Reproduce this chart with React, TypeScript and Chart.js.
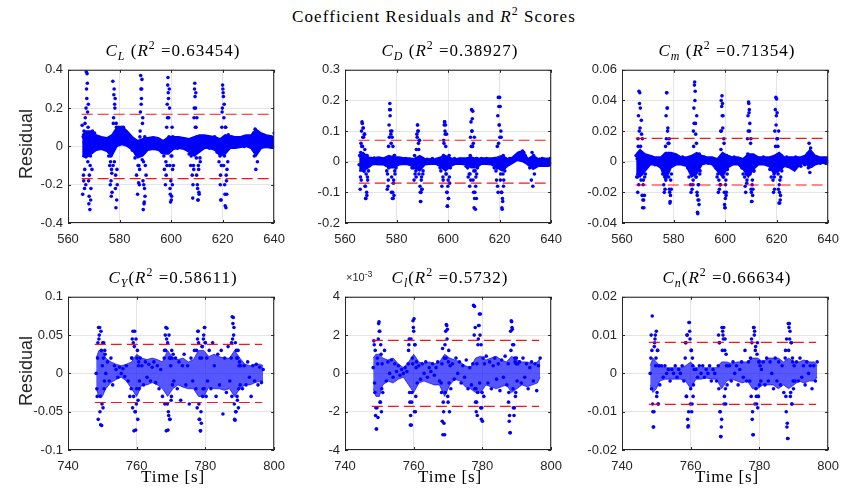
import React, { useEffect, useRef } from "react";
import { Chart, registerables } from "chart.js";

Chart.register(...registerables);

// ======================= DATA =======================
// ---- Upper row (C_L, C_D, C_m): sample times [s] ----
const TIME_ROW1 = [
  565.5, 565.7, 565.9, 566.1, 566.3, 566.5, 566.7, 566.9, 567.1, 567.3, 567.5, 567.7, 567.9, 568.1, 568.3, 568.5, 568.7, 568.9, 569.1, 569.3, 569.5, 569.7, 569.9,
  570.3, 570.8, 571.3, 571.8, 572.3, 572.8, 573.3, 573.8, 574.3, 574.8, 575.3, 575.8,
  576.0, 576.2, 576.4, 576.6, 576.8, 577.0, 577.2, 577.4, 577.6, 577.8, 578.0, 578.2, 578.4, 578.6, 578.8, 579.0, 579.2, 579.4, 579.6, 579.8, 580.0,
  580.5, 581.0, 581.5, 582.0, 582.5, 583.0, 583.5, 584.0, 584.5, 585.0, 585.5, 586.0,
  586.4, 586.6, 586.8, 587.0, 587.2, 587.4, 587.6, 587.8, 588.0, 588.2, 588.4, 588.6, 588.8, 589.0, 589.2, 589.4, 589.6, 589.8, 590.0, 590.2, 590.4,
  590.9, 591.4, 591.9, 592.4, 592.9, 593.4, 593.9, 594.4, 594.9, 595.4, 595.9, 596.4, 596.9,
  597.2, 597.4, 597.6, 597.8, 598.0, 598.2, 598.4, 598.6, 598.8, 599.0, 599.2, 599.4, 599.6, 599.8, 600.0, 600.2, 600.4, 600.6, 600.8, 601.0,
  601.5, 602.0, 602.5, 603.0, 603.5, 604.0, 604.5, 605.0, 605.5, 606.0, 606.5, 607.0,
  607.4, 607.6, 607.8, 608.0, 608.2, 608.4, 608.6, 608.8, 609.0, 609.2, 609.4, 609.6, 609.8, 610.0, 610.2, 610.4, 610.6, 610.8, 611.0, 611.2, 611.4,
  611.9, 612.4, 612.9, 613.4, 613.9, 614.4, 614.9, 615.4, 615.9, 616.4, 616.9, 617.4, 617.9,
  618.4, 618.6, 618.8, 619.0, 619.2, 619.4, 619.6, 619.8, 620.0, 620.2, 620.4, 620.6, 620.8, 621.0, 621.2, 621.4, 621.6, 621.8, 622.0, 622.2, 622.4,
  622.9, 623.4, 623.9, 624.4, 624.9, 625.4, 625.9, 626.4, 626.9, 627.4, 627.9, 628.4, 628.9, 629.4, 629.9, 630.4, 630.9, 631.4,
  631.7, 632.0, 632.3, 632.6, 632.9, 633.2, 633.5, 633.8, 634.1,
  634.5, 635.0, 635.5, 636.0, 636.5, 637.0, 637.5, 638.0, 638.5, 639.0, 639.5, 640.0,
];

const CL_RESIDUAL = [
  0.11, -0.25, 0.05, -0.18, 0.02, -0.12, 0.15, -0.2, 0.39, 0.25, 0.33, -0.08, 0.22, -0.3, -0.15, -0.33, -0.05, -0.22, 0.06, -0.12, 0.08, 0.03, 0.06,
  0.07, 0.03, 0.05, 0.0, 0.04, 0.02, 0.03, -0.01, 0.03, 0.01, -0.02, -0.05,
  -0.03, -0.1, -0.2, -0.05, -0.26, -0.14, 0.05, 0.34, 0.12, 0.27, -0.08, 0.2, -0.22, -0.32, 0.1, -0.12, 0.09, 0.02, 0.1, 0.05, 0.08,
  0.09, 0.04, 0.1, 0.05, 0.07, 0.02, 0.05, 0.0, 0.03, -0.02, 0.01, -0.06,
  -0.04, -0.15, -0.02, -0.25, -0.1, -0.19, 0.02, -0.12, 0.08, 0.37, 0.22, 0.3, -0.07, 0.15, -0.33, -0.2, -0.29, 0.05, -0.1, 0.04, 0.02,
  0.03, 0.0, 0.04, 0.01, 0.03, -0.01, 0.02, 0.04, 0.0, 0.03, 0.01, -0.03, 0.02,
  -0.05, -0.12, 0.0, -0.2, -0.08, 0.02, -0.1, 0.15, 0.36, 0.25, 0.05, 0.2, -0.22, -0.29, -0.05, -0.26, 0.1, -0.12, 0.04, 0.02,
  0.02, 0.04, -0.01, 0.03, 0.0, 0.03, 0.01, 0.04, -0.01, 0.02, 0.0, -0.04,
  -0.02, -0.1, -0.05, 0.0, -0.15, -0.27, -0.02, -0.12, 0.2, 0.33, 0.1, 0.28, -0.06, 0.15, -0.2, -0.28, -0.1, -0.24, 0.05, -0.06, 0.04,
  0.02, 0.05, 0.0, 0.03, 0.01, 0.04, -0.01, 0.03, 0.0, 0.02, 0.05, 0.01, -0.03,
  -0.02, -0.08, 0.0, -0.05, -0.15, -0.28, 0.02, 0.18, 0.32, 0.28, -0.1, 0.22, -0.2, -0.31, 0.1, -0.15, -0.25, 0.03, -0.08, 0.06, 0.02,
  0.03, 0.05, 0.0, 0.04, 0.01, 0.03, 0.0, 0.02, 0.04, 0.01, 0.03, 0.0, 0.02, 0.04, 0.01, 0.03, 0.0, 0.02,
  0.04, 0.07, -0.05, 0.09, -0.12, 0.06, -0.08, 0.05, 0.02,
  0.03, 0.01, 0.05, 0.02, 0.04, 0.0, 0.03, 0.05, 0.01, 0.03, 0.0, 0.07,
];

const CD_RESIDUAL = [
  -0.01, 0.02, -0.09, 0.03, -0.06, 0.05, 0.125, 0.08, 0.11, -0.03, 0.09, 0.04, -0.08, -0.12, 0.02, -0.11, -0.05, 0.01, -0.03, 0.01, 0.0, 0.01, 0.005,
  0.01, -0.005, 0.012, 0.0, 0.008, -0.004, 0.01, 0.002, 0.006, -0.006, 0.004, -0.01,
  0.0, -0.03, -0.09, 0.01, -0.06, -0.02, 0.08, 0.19, 0.17, 0.09, -0.1, 0.1, -0.12, 0.05, -0.07, -0.11, 0.02, -0.04, 0.01, -0.02, 0.005,
  0.01, -0.005, 0.008, 0.0, 0.006, -0.004, 0.01, -0.002, 0.005, -0.008, 0.003, -0.02,
  0.0, -0.02, -0.06, 0.02, -0.04, -0.01, -0.05, 0.01, 0.08, 0.12, 0.1, 0.04, 0.07, -0.02, -0.1, -0.13, -0.06, -0.09, 0.01, -0.04, 0.005,
  0.005, -0.005, 0.008, 0.0, 0.006, -0.003, 0.01, 0.0, 0.005, -0.005, 0.003, -0.01, -0.02,
  -0.03, -0.01, -0.08, 0.0, -0.05, 0.02, 0.06, 0.13, 0.1, 0.12, -0.04, 0.09, -0.1, -0.145, -0.06, -0.12, 0.02, -0.07, 0.01, -0.005,
  0.008, -0.004, 0.01, 0.0, 0.006, -0.005, 0.009, 0.002, 0.005, -0.006, 0.003, -0.015,
  0.0, -0.02, -0.05, 0.01, -0.04, -0.08, 0.02, -0.06, 0.05, 0.1, 0.14, 0.165, 0.06, -0.03, 0.08, -0.1, -0.155, -0.05, -0.12, 0.01, -0.02,
  0.006, -0.004, 0.01, 0.0, 0.007, -0.003, 0.01, 0.001, 0.005, -0.005, 0.004, -0.01, -0.02,
  0.0, -0.03, -0.06, -0.02, -0.08, -0.1, 0.06, 0.12, 0.21, 0.18, -0.04, 0.08, -0.1, -0.155, -0.13, 0.02, -0.06, 0.0, -0.03, 0.01, 0.0,
  0.005, -0.006, 0.01, 0.0, 0.008, 0.01, 0.015, 0.012, 0.02, 0.025, 0.03, 0.028, 0.035, 0.03, 0.02, 0.005, 0.0, -0.01,
  -0.02, 0.01, -0.06, 0.03, -0.08, 0.02, -0.04, 0.01, -0.01,
  0.005, -0.01, 0.008, -0.005, 0.01, -0.008, 0.006, -0.01, 0.008, -0.004, 0.01, -0.006,
];

const CM_RESIDUAL = [
  0.004, -0.01, 0.002, -0.02, 0.01, -0.015, 0.02, 0.045, 0.035, 0.005, 0.027, -0.008, 0.015, -0.025, -0.012, -0.03, -0.022, 0.004, -0.008, 0.003, 0.0, 0.002, 0.001,
  0.002, -0.001, 0.003, 0.0, 0.002, -0.002, 0.002, 0.0, 0.001, -0.002, -0.004, -0.008,
  -0.006, -0.015, -0.02, -0.01, 0.005, -0.012, 0.015, 0.045, 0.035, 0.022, -0.005, 0.012, -0.018, -0.027, -0.022, 0.004, -0.008, 0.003, -0.002, 0.002, 0.0,
  0.003, 0.0, 0.002, -0.001, 0.002, 0.0, 0.003, -0.001, 0.001, -0.002, -0.004, -0.01,
  -0.005, -0.015, -0.02, -0.008, -0.018, -0.006, -0.012, 0.01, 0.025, 0.052, 0.046, 0.018, -0.01, 0.03, -0.022, -0.034, -0.015, -0.025, 0.005, -0.008, 0.002,
  0.003, 0.001, 0.003, 0.0, 0.002, -0.001, 0.002, 0.0, 0.002, -0.001, 0.0, -0.004, -0.01,
  -0.008, -0.02, -0.012, -0.018, -0.006, -0.015, 0.008, 0.02, 0.043, 0.038, 0.03, -0.01, 0.012, -0.028, -0.03, -0.015, -0.022, 0.004, -0.008, 0.002,
  0.003, 0.0, 0.002, -0.001, 0.003, 0.0, 0.002, -0.001, 0.001, -0.002, -0.004, -0.008,
  -0.004, -0.01, -0.016, -0.02, -0.008, -0.014, -0.003, 0.005, 0.02, 0.038, 0.034, 0.025, -0.005, 0.015, -0.02, -0.026, -0.012, -0.018, 0.004, -0.006, 0.001,
  0.003, 0.0, 0.002, -0.001, 0.002, 0.0, 0.003, -0.001, 0.001, -0.002, 0.0, -0.005, -0.01,
  -0.004, -0.012, -0.02, -0.008, -0.018, -0.006, 0.01, 0.024, 0.041, 0.032, 0.015, -0.008, 0.02, -0.015, -0.027, -0.025, -0.01, 0.004, -0.006, 0.002, 0.001,
  0.002, 0.0, 0.003, -0.001, 0.002, 0.0, 0.002, -0.002, 0.001, 0.003, -0.001, 0.002, 0.0, -0.003, 0.002, 0.001, -0.002, 0.002,
  0.002, 0.005, -0.004, 0.012, -0.007, 0.009, -0.003, 0.004, 0.002,
  0.002, 0.0, 0.003, 0.001, 0.002, -0.001, 0.002, 0.0, 0.002, -0.001, 0.001, 0.0,
];

// extra samples inside the six manoeuvre bursts (upper row)
const BURST_TIME_ROW1 = [
  566.0, 566.2, 566.4, 566.6, 566.8, 567.0, 567.2, 567.4, 567.6, 567.8, 568.0, 568.2, 568.4, 568.6, 568.8,
  576.5, 576.7, 576.9, 577.1, 577.3, 577.5, 577.7, 577.9, 578.1, 578.3, 578.5, 578.7, 578.9, 579.1, 579.3,
  587.5, 587.7, 587.9, 588.1, 588.3, 588.5, 588.7, 588.9, 589.1, 589.3, 589.5, 589.7, 589.9, 590.1, 590.3,
  598.1, 598.3, 598.5, 598.7, 598.9, 599.1, 599.3, 599.5, 599.7, 599.9, 600.1, 600.3, 600.5, 600.7, 600.9,
  608.5, 608.7, 608.9, 609.1, 609.3, 609.5, 609.7, 609.9, 610.1, 610.3, 610.5, 610.7, 610.9, 611.1, 611.3,
  619.1, 619.3, 619.5, 619.7, 619.9, 620.1, 620.3, 620.5, 620.7, 620.9, 621.1, 621.3, 621.5, 621.7, 621.9,
];
const CL_BURST = [
  -0.15, 0.08, -0.22, 0.12, -0.05, 0.2, 0.3, 0.38, 0.18, 0.1, -0.18, -0.26, 0.05, -0.1, -0.28,
  -0.08, -0.18, -0.12, -0.24, 0.05, -0.1, 0.15, 0.3, 0.22, 0.25, -0.15, 0.12, -0.28, -0.2, 0.06,
  -0.1, -0.2, 0.05, 0.18, 0.3, 0.25, 0.35, 0.12, -0.18, -0.08, -0.3, -0.22, -0.26, 0.02, -0.15,
  -0.15, 0.1, 0.22, 0.32, 0.28, 0.15, 0.3, -0.1, -0.25, -0.18, -0.28, -0.05, -0.2, 0.05, -0.1,
  -0.2, -0.1, 0.15, 0.3, 0.26, 0.2, 0.1, -0.15, 0.05, -0.22, -0.28, -0.12, -0.25, 0.02, -0.08,
  -0.2, -0.28, -0.1, 0.1, 0.2, 0.3, 0.26, 0.15, -0.05, -0.25, 0.1, -0.32, -0.18, -0.12, 0.02,
];
const CD_BURST = [
  -0.05, 0.06, 0.1, 0.13, 0.05, 0.11, 0.08, -0.03, 0.09, -0.08, -0.12, -0.04, -0.1, 0.02, -0.06,
  -0.04, -0.08, 0.05, 0.12, 0.17, 0.15, 0.1, 0.06, -0.05, 0.08, -0.1, -0.12, -0.06, 0.02, -0.03,
  -0.03, 0.04, 0.09, 0.12, 0.1, 0.06, -0.04, 0.07, -0.08, -0.13, -0.1, -0.05, -0.09, 0.01, -0.03,
  -0.06, 0.07, 0.12, 0.13, 0.09, 0.05, -0.04, -0.1, -0.145, -0.08, -0.12, 0.01, -0.05, 0.0, -0.02,
  -0.04, 0.08, 0.13, 0.17, 0.1, 0.05, -0.06, -0.1, -0.15, -0.12, -0.03, -0.08, 0.01, -0.04, 0.0,
  0.05, 0.15, 0.21, 0.18, 0.12, 0.08, -0.06, 0.1, -0.1, -0.15, -0.12, -0.04, -0.08, 0.01, -0.02,
];
const CM_BURST = [
  -0.01, 0.015, 0.03, 0.046, 0.038, 0.022, 0.01, -0.012, 0.018, -0.022, -0.03, -0.015, -0.025, 0.004, -0.01,
  -0.008, -0.018, 0.01, 0.03, 0.045, 0.035, 0.02, 0.012, -0.01, 0.015, -0.02, -0.026, -0.012, -0.018, 0.002,
  -0.015, 0.02, 0.035, 0.05, 0.04, 0.025, -0.01, 0.012, -0.02, -0.033, -0.025, -0.015, -0.028, 0.002, -0.006,
  -0.015, 0.02, 0.04, 0.036, 0.03, 0.022, -0.01, 0.015, -0.02, -0.03, -0.024, -0.012, -0.02, 0.002, -0.005,
  -0.012, 0.015, 0.03, 0.039, 0.032, 0.02, -0.008, 0.012, -0.018, -0.026, -0.015, -0.022, 0.0, -0.006, 0.002,
  -0.01, 0.02, 0.034, 0.042, 0.03, 0.015, -0.006, 0.01, -0.018, -0.027, -0.02, -0.012, -0.022, 0.002, -0.004,
];

// dense core band of the residual cloud: upper / lower edge (upper row)
const BAND_TIME_ROW1 = [
  565.5, 567, 569, 571, 573, 575, 577, 579, 581, 583, 585, 587, 589, 591, 593, 595, 597, 599, 601, 603,
  605, 607, 609, 611, 613, 615, 617, 619, 621, 623, 625, 627, 629, 631, 633, 635, 637, 639, 640,
];
const CL_BAND_HI = [
  0.06, 0.08, 0.08, 0.06, 0.05, 0.045, 0.06, 0.1, 0.105, 0.08, 0.05, 0.03, 0.04, 0.045, 0.05, 0.045, 0.03, 0.05, 0.05, 0.05,
  0.045, 0.04, 0.05, 0.06, 0.06, 0.055, 0.05, 0.04, 0.06, 0.055, 0.05, 0.05, 0.06, 0.06, 0.09, 0.07, 0.06, 0.055, 0.05,
];
const CL_BAND_LO = [
  -0.05, -0.06, -0.04, -0.02, -0.015, -0.025, -0.05, 0.0, 0.01, 0.0, -0.02, -0.06, -0.05, -0.02, -0.015, -0.02, -0.04, -0.04, -0.015, -0.01,
  -0.015, -0.03, -0.05, -0.03, -0.01, -0.01, -0.02, -0.05, -0.04, -0.01, -0.01, -0.005, 0.0, -0.01, -0.05, -0.01, -0.005, -0.01, -0.01,
];
const CD_BAND_HI = [
  0.02, 0.03, 0.015, 0.012, 0.015, 0.012, 0.02, 0.015, 0.015, 0.012, 0.012, 0.01, 0.02, 0.01, 0.008, 0.01, 0.015, 0.02, 0.01, 0.01,
  0.012, 0.012, 0.015, 0.01, 0.012, 0.012, 0.012, 0.015, 0.02, 0.01, 0.015, 0.03, 0.035, 0.01, 0.02, 0.01, 0.012, 0.01, 0.01,
];
const CD_BAND_LO = [
  -0.03, -0.03, -0.02, -0.008, -0.01, -0.01, -0.02, -0.02, -0.01, -0.008, -0.01, -0.02, -0.03, -0.01, -0.008, -0.008, -0.015, -0.03, -0.015, -0.008,
  -0.008, -0.01, -0.02, -0.02, -0.008, -0.008, -0.01, -0.02, -0.03, -0.015, -0.005, 0.005, 0.0, -0.01, -0.025, -0.015, -0.015, -0.015, -0.012,
];
const CM_BAND_HI = [
  0.005, 0.008, 0.005, 0.004, 0.003, 0.003, 0.006, 0.006, 0.005, 0.003, 0.003, 0.004, 0.006, 0.004, 0.003, 0.003, 0.002, 0.006, 0.004, 0.003,
  0.003, 0.002, 0.005, 0.005, 0.003, 0.003, 0.003, 0.004, 0.006, 0.003, 0.003, 0.003, 0.003, 0.004, 0.008, 0.004, 0.003, 0.003, 0.003,
];
const CM_BAND_LO = [
  -0.008, -0.01, -0.006, -0.002, -0.002, -0.004, -0.012, -0.004, -0.002, -0.002, -0.003, -0.01, -0.008, -0.002, -0.001, -0.002, -0.006, -0.01, -0.004, -0.002,
  -0.002, -0.005, -0.01, -0.005, -0.002, -0.002, -0.003, -0.008, -0.006, -0.003, -0.004, -0.006, -0.002, -0.001, -0.004, -0.002, -0.001, -0.001, -0.002,
];

// ---- Lower row (C_Y, C_l, C_n): sample times [s] ----
const TIME_ROW2 = [
  748.2, 748.4, 748.6, 748.8, 749.0, 749.2, 749.4, 749.6, 749.8, 750.0, 750.2, 750.4, 750.6, 750.8, 751.0,
  751.5, 752.0, 752.5, 753.0, 753.5, 754.0, 754.5, 755.0, 755.5, 756.0, 756.5, 757.0, 757.5, 758.0,
  758.4, 758.6, 758.8, 759.0, 759.2, 759.4, 759.6, 759.8, 760.0, 760.2, 760.4, 760.6, 760.8, 761.0,
  761.5, 762.0, 762.5, 763.0, 763.5, 764.0, 764.5, 765.0, 765.5, 766.0, 766.5, 767.0, 767.5,
  768.0, 768.2, 768.4, 768.6, 768.8, 769.0, 769.2, 769.4, 769.6, 769.8, 770.0, 770.2, 770.4, 770.6, 770.8,
  771.3, 771.8, 772.3, 772.8, 773.3, 773.8, 774.3, 774.8, 775.3, 775.8, 776.3, 776.8,
  777.2, 777.4, 777.6, 777.8, 778.0, 778.2, 778.4, 778.6, 778.8, 779.0, 779.2, 779.4, 779.6, 779.8, 780.0, 780.2, 780.4, 780.6,
  781.1, 781.6, 782.1, 782.6, 783.1, 783.6, 784.1, 784.6, 785.1, 785.6, 786.1, 786.6, 787.1,
  787.5, 787.7, 787.9, 788.1, 788.3, 788.5, 788.7, 788.9, 789.1, 789.3, 789.5, 789.7, 789.9, 790.1, 790.3,
  790.8, 791.3, 791.8, 792.3, 792.8, 793.3, 793.8, 794.3, 794.8, 795.3, 795.8, 796.3, 796.8,
];

const CY_RESIDUAL = [
  0.0, -0.02, 0.02, -0.06, 0.045, 0.06, -0.03, 0.055, -0.068, 0.01, -0.045, 0.04, -0.01, 0.025, 0.0,
  0.015, -0.01, 0.02, -0.015, 0.01, 0.005, -0.005, 0.008, 0.0, 0.006, -0.004, 0.01, -0.01, -0.03,
  -0.02, 0.02, -0.045, 0.04, -0.075, 0.055, -0.05, 0.045, -0.02, 0.03, -0.035, 0.015, -0.01, 0.02,
  0.01, -0.015, 0.015, -0.005, 0.012, -0.01, 0.008, 0.015, -0.012, 0.01, -0.02, 0.005, -0.03,
  0.02, -0.04, 0.03, -0.075, 0.059, 0.04, -0.05, 0.05, -0.06, 0.02, -0.035, 0.03, -0.015, 0.025, -0.01,
  0.02, -0.02, 0.015, -0.035, 0.01, 0.025, -0.015, 0.01, -0.04, 0.02, -0.01, 0.03,
  -0.02, 0.03, -0.045, 0.055, 0.04, -0.06, 0.02, -0.075, -0.065, 0.035, -0.03, 0.045, -0.02, 0.06, 0.04, -0.03, 0.02, -0.01,
  0.03, -0.02, 0.04, 0.01, -0.03, 0.025, -0.015, 0.03, -0.053, 0.02, -0.025, 0.035, -0.01,
  0.02, -0.03, 0.045, 0.073, 0.06, -0.06, 0.04, -0.05, 0.02, -0.035, 0.03, -0.02, 0.015, -0.015, 0.01,
  -0.02, 0.01, -0.015, 0.015, -0.005, -0.03, 0.01, -0.01, 0.012, -0.015, 0.008, -0.012, 0.005,
];

// roll-moment residual, in units of 1e-3 (the axis shows x10^-3)
const CROLL_RESIDUAL_E3 = [
  0.3, 1.7, -0.5, 1.2, -1.8, -2.9, 0.8, -2.3, 2.6, 2.2, -1.5, 1.5, -2.0, 0.5, -1.0,
  1.2, -0.4, 0.6, 0.0, 0.7, -0.2, 0.5, 0.1, 0.4, -0.1, 0.2, 0.0, 0.3, 0.1,
  0.5, 1.5, -1.0, -2.7, 1.8, -1.5, 0.8, 2.75, 2.2, -2.0, 1.5, -1.2, 0.6, -0.5,
  0.4, -0.3, 0.5, 0.0, 0.6, -0.2, 0.3, 0.1, 0.5, -0.1, 0.3, 0.6, -0.4,
  -0.5, 0.5, 1.3, -1.5, -2.6, -3.2, -1.0, 0.8, 2.5, 2.3, -1.5, 1.2, -2.0, 0.4, -0.8,
  0.5, -0.3, 0.8, 0.0, 0.6, -0.5, 0.4, -0.2, 0.7, -0.8, 0.3, -0.6,
  0.5, 3.55, 2.0, -0.8, -1.5, -2.0, 0.5, -1.0, 1.8, 2.5, -0.5, 3.1, 1.5, -1.8, -2.5, 0.8, -1.2, 0.5,
  0.9, -0.5, 0.6, -0.8, 0.4, 0.8, -0.3, 0.5, -0.9, 0.7, -0.2, 0.9, -0.6,
  0.5, -1.0, -2.2, -3.1, 1.2, 2.7, 2.3, -0.8, 1.5, -1.8, 0.6, -1.0, 0.8, -0.4, 0.5,
  0.6, -0.5, 0.8, -0.2, 0.5, -0.8, 0.3, 0.6, -0.4, 0.5, -0.9, 0.4, 0.8,
];

const CN_RESIDUAL = [
  0.0, 0.004, -0.004, 0.015, -0.01, -0.014, 0.007, 0.009, 0.002, 0.011, -0.005, 0.006, -0.008, 0.002, -0.003,
  0.002, -0.001, 0.002, 0.0, 0.001, -0.002, 0.001, 0.0, 0.002, -0.001, 0.001, 0.0, 0.002, -0.002,
  0.004, 0.008, -0.006, 0.01, -0.014, -0.01, 0.0133, 0.009, -0.004, 0.006, -0.008, 0.002, -0.003, 0.001,
  0.001, -0.001, 0.002, 0.0, 0.002, -0.001, 0.001, 0.0, 0.002, -0.002, 0.001, 0.0, -0.002,
  0.002, -0.004, 0.008, -0.01, -0.0165, -0.012, 0.006, 0.01, 0.012, -0.006, 0.009, -0.008, 0.002, -0.003, 0.002,
  0.002, -0.002, 0.003, 0.0, 0.002, -0.003, 0.001, 0.003, -0.001, 0.006, -0.002, 0.003,
  -0.002, 0.004, -0.006, 0.008, -0.01, -0.016, 0.012, 0.011, 0.006, -0.004, -0.008, 0.008, -0.006, 0.003, -0.003, 0.002, -0.002, 0.001,
  0.003, -0.003, 0.004, -0.002, 0.003, 0.0, -0.004, 0.004, -0.002, 0.003, -0.003, 0.002, -0.005,
  0.004, -0.006, 0.009, -0.013, -0.017, 0.006, 0.013, 0.011, -0.005, 0.008, -0.008, 0.003, -0.004, 0.002, -0.002,
  0.003, -0.002, 0.004, -0.001, 0.002, -0.003, 0.003, 0.0, 0.002, -0.004, 0.002, -0.002, 0.003,
];

// extra samples inside the five bursts (lower row)
const BURST_TIME_ROW2 = [
  748.5, 748.7, 748.9, 749.1, 749.3, 749.5, 749.7, 749.9, 750.1, 750.3, 750.5, 750.7,
  758.5, 758.7, 758.9, 759.1, 759.3, 759.5, 759.7, 759.9, 760.1, 760.3, 760.5, 760.7,
  768.1, 768.3, 768.5, 768.7, 768.9, 769.1, 769.3, 769.5, 769.7, 769.9, 770.1, 770.3,
  777.7, 777.9, 778.1, 778.3, 778.5, 778.7, 778.9, 779.1, 779.3, 779.5, 779.7, 779.9,
  787.6, 787.8, 788.0, 788.2, 788.4, 788.6, 788.8, 789.0, 789.2, 789.4, 789.6, 789.8,
];
const CY_BURST = [
  -0.03, 0.04, 0.06, 0.05, -0.05, -0.067, 0.03, -0.04, 0.04, 0.02, -0.02, 0.03,
  0.02, 0.045, 0.055, -0.03, 0.035, -0.05, -0.074, -0.04, 0.02, -0.06, 0.01, -0.02,
  0.03, 0.05, 0.06, 0.045, -0.04, -0.074, -0.055, 0.02, -0.06, 0.01, -0.03, 0.02,
  0.045, 0.055, -0.04, -0.06, -0.075, -0.05, 0.02, 0.035, -0.02, 0.05, 0.06, 0.04,
  0.04, 0.074, 0.065, 0.05, -0.04, -0.061, -0.05, 0.03, -0.03, 0.02, -0.045, 0.01,
];
const CROLL_BURST_E3 = [
  1.5, -1.0, -2.2, -2.9, -1.8, 0.5, 1.8, 2.7, 2.2, -1.5, 1.0, -0.8,
  1.2, 1.8, -1.5, -2.2, -2.7, -1.0, 0.5, 2.4, 2.85, 1.5, -2.0, 0.3,
  -1.0, -2.5, -3.2, -2.0, 0.8, 1.5, 2.2, 2.55, 1.8, -1.2, 0.6, -0.5,
  3.5, 2.4, -0.8, -1.5, -2.2, 1.5, 2.5, 3.1, 2.0, -1.8, -2.4, -1.0,
  -1.5, -2.5, -3.1, 2.2, 2.75, 2.4, 1.5, -1.8, -2.2, 0.8, -1.2, 0.5,
];
const CN_BURST = [
  0.01, 0.006, -0.008, -0.014, -0.01, 0.008, 0.01, 0.004, -0.006, 0.006, -0.008, 0.002,
  0.008, -0.006, 0.01, -0.012, -0.0137, 0.0133, 0.011, -0.008, 0.006, -0.01, 0.004, -0.006,
  0.01, 0.008, -0.01, -0.0165, -0.014, 0.012, 0.011, 0.009, -0.008, 0.006, -0.004, 0.005,
  0.009, -0.012, -0.016, 0.012, 0.01, -0.008, 0.007, -0.006, 0.005, -0.009, -0.006, 0.003,
  0.006, -0.01, -0.014, -0.017, 0.013, 0.012, 0.009, -0.006, 0.008, -0.008, 0.004, -0.002,
];

// dense core band (lower row)
const BAND_TIME_ROW2 = [
  748.2, 749, 750, 751, 752.5, 754, 755.5, 757, 758.5, 760, 761.5, 763, 764.5, 766, 767.5, 769, 770.5, 772,
  773.5, 775, 776.5, 778, 779.5, 781, 782.5, 784, 785.5, 787, 788.5, 790, 791.5, 793, 794.5, 796, 796.8,
];
const CY_BAND_HI = [
  0.02, 0.03, 0.03, 0.02, 0.015, 0.012, 0.01, 0.012, 0.015, 0.025, 0.02, 0.018, 0.02, 0.018, 0.015, 0.03, 0.02, 0.018,
  0.02, 0.015, 0.018, 0.03, 0.03, 0.022, 0.025, 0.022, 0.02, 0.02, 0.03, 0.02, 0.012, 0.01, 0.012, 0.012, 0.01,
];
const CY_BAND_LO = [
  -0.02, -0.03, -0.03, -0.02, -0.012, -0.008, -0.005, -0.01, -0.02, -0.03, -0.015, -0.015, -0.012, -0.015, -0.02, -0.03, -0.02, -0.015,
  -0.018, -0.02, -0.02, -0.03, -0.03, -0.018, -0.02, -0.02, -0.022, -0.02, -0.03, -0.02, -0.015, -0.015, -0.012, -0.01, -0.01,
];
const CROLL_BAND_HI_E3 = [
  0.8, 1.0, 1.0, 0.8, 0.7, 0.8, 0.5, 0.3, 0.6, 1.0, 0.6, 0.5, 0.6, 0.5, 0.6, 1.0, 0.8, 0.7,
  0.6, 0.4, 0.3, 0.8, 0.9, 0.7, 0.8, 0.9, 0.7, 0.6, 0.9, 0.7, 0.6, 0.6, 0.5, 0.6, 0.8,
];
const CROLL_BAND_LO_E3 = [
  -0.8, -1.2, -1.2, -0.6, -0.4, -0.5, -0.3, -0.2, -0.6, -1.0, -0.5, -0.4, -0.5, -0.6, -0.6, -1.2, -0.6, -0.3,
  -0.4, -0.7, -0.8, -1.0, -1.0, -0.6, -0.7, -0.8, -0.7, -0.6, -1.0, -0.8, -0.6, -0.7, -0.6, -0.5, -0.2,
];
const CN_BAND_HI = [
  0.002, 0.004, 0.003, 0.002, 0.0015, 0.0015, 0.0015, 0.0015, 0.002, 0.003, 0.0015, 0.0015, 0.0015, 0.0015, 0.0015, 0.003, 0.003, 0.0025,
  0.003, 0.003, 0.003, 0.004, 0.004, 0.003, 0.004, 0.004, 0.004, 0.003, 0.004, 0.003, 0.003, 0.0035, 0.003, 0.003, 0.002,
];
const CN_BAND_LO = [
  -0.003, -0.005, -0.004, -0.002, -0.0015, -0.0015, -0.0015, -0.0015, -0.002, -0.004, -0.0015, -0.0015, -0.0012, -0.0015, -0.0015, -0.004, -0.002, -0.0015,
  -0.002, -0.0025, -0.002, -0.004, -0.004, -0.003, -0.003, -0.003, -0.004, -0.003, -0.004, -0.003, -0.002, -0.0025, -0.002, -0.002, -0.001,
];

// +/- residual limits (red dashed) and the time span they cover
const BAND_LIMITS = [0.168, 0.07, 0.0152, 0.038, 1.72, 0.0081];
const LIMIT_SPAN_ROW1 = [565.3, 640];
const LIMIT_SPAN_ROW2 = [747.8, 796.5];

const X_TICKS_ROW1 = [560, 580, 600, 620, 640];
const X_TICKS_ROW2 = [740, 760, 780, 800];
const Y_TICKS_CL = [-0.4, -0.2, 0, 0.2, 0.4];
const Y_TICKS_CD = [-0.2, -0.1, 0, 0.1, 0.2, 0.3];
const Y_TICKS_CM = [-0.04, -0.02, 0, 0.02, 0.04, 0.06];
const Y_TICKS_CY = [-0.1, -0.05, 0, 0.05, 0.1];
const Y_TICKS_CROLL = [-4, -2, 0, 2, 4];
const Y_TICKS_CN = [-0.02, -0.01, 0, 0.01, 0.02];

const COEFF_SUBSCRIPTS = ["L", "D", "m", "Y", "l", "n"];
const R2_SCORES = ["0.63454", "0.38927", "0.71354", "0.58611", "0.5732", "0.66634"];

const MAIN_TITLE = "Coefficient Residuals and";
const MAIN_TITLE_END = "Scores";
const Y_LABEL = "Residual";
const X_LABEL = "Time [s]";

// ======================= LAYOUT / STYLE =======================
const PLOT_W = 210;
const PLOT_H = 158;
const COL_LEFT = [68, 345, 622];
const ROW_TOP = [65, 292];
const Y_AXIS_W = 60;
const X_AXIS_H = 26;
const PAD_T = 8;
const PAD_R = 16;
const CW = PLOT_W + Y_AXIS_W + PAD_R;
const CH = PLOT_H + PAD_T + X_AXIS_H;

const SERIES = [CL_RESIDUAL, CD_RESIDUAL, CM_RESIDUAL, CY_RESIDUAL, CROLL_RESIDUAL_E3, CN_RESIDUAL];
const BURSTS = [CL_BURST, CD_BURST, CM_BURST, CY_BURST, CROLL_BURST_E3, CN_BURST];
const BAND_HI = [CL_BAND_HI, CD_BAND_HI, CM_BAND_HI, CY_BAND_HI, CROLL_BAND_HI_E3, CN_BAND_HI];
const BAND_LO = [CL_BAND_LO, CD_BAND_LO, CM_BAND_LO, CY_BAND_LO, CROLL_BAND_LO_E3, CN_BAND_LO];
const Y_TICKS = [Y_TICKS_CL, Y_TICKS_CD, Y_TICKS_CM, Y_TICKS_CY, Y_TICKS_CROLL, Y_TICKS_CN];

const AXIS_COLOR = "#262626";
const GRID_COLOR = "#e4e4e4";
const DOT_BLUE = "#0000ff";
const SANS = "'Liberation Sans', Arial, Helvetica, sans-serif";
const SERIF = "'Liberation Serif', 'Times New Roman', serif";

function fmt(v: number): string {
  return String(parseFloat(Number(v).toFixed(6)));
}

function zip(xs: number[], ys: number[]) {
  const n = Math.min(xs.length, ys.length);
  if (xs.length !== ys.length) console.warn("length mismatch", xs.length, ys.length);
  const out: { x: number; y: number }[] = [];
  for (let i = 0; i < n; i++) out.push({ x: xs[i], y: ys[i] });
  return out;
}

const boxPlugin = {
  id: "matlabBox",
  afterDatasetsDraw(chart: any) {
    const { ctx, chartArea: a, scales } = chart;
    ctx.save();
    ctx.strokeStyle = AXIS_COLOR;
    ctx.lineWidth = 1;
    ctx.strokeRect(a.left + 0.5, a.top + 0.5, a.right - a.left - 1, a.bottom - a.top - 1);
    const L = 3;
    ctx.beginPath();
    for (const t of scales.x.ticks) {
      const x = Math.round(scales.x.getPixelForValue(t.value)) + 0.5;
      ctx.moveTo(x, a.bottom);
      ctx.lineTo(x, a.bottom - L);
      ctx.moveTo(x, a.top);
      ctx.lineTo(x, a.top + L);
    }
    for (const t of scales.y.ticks) {
      const y = Math.round(scales.y.getPixelForValue(t.value)) + 0.5;
      ctx.moveTo(a.left, y);
      ctx.lineTo(a.left + L, y);
      ctx.moveTo(a.right, y);
      ctx.lineTo(a.right - L, y);
    }
    ctx.stroke();
    ctx.restore();
  },
};

function Panel({ idx }: { idx: number }) {
  const ref = useRef<HTMLCanvasElement | null>(null);
  const row = idx < 3 ? 0 : 1;
  const col = idx % 3;
  const left = COL_LEFT[col] - Y_AXIS_W;
  const top = ROW_TOP[row] - PAD_T;

  useEffect(() => {
    const times = row === 0 ? TIME_ROW1 : TIME_ROW2;
    const burstTimes = row === 0 ? BURST_TIME_ROW1 : BURST_TIME_ROW2;
    const bandTimes = row === 0 ? BAND_TIME_ROW1 : BAND_TIME_ROW2;
    const span = row === 0 ? LIMIT_SPAN_ROW1 : LIMIT_SPAN_ROW2;
    const lim = BAND_LIMITS[idx];
    const xTicks = row === 0 ? X_TICKS_ROW1 : X_TICKS_ROW2;
    const yTicks = Y_TICKS[idx];
    const bandFill = row === 0 ? "rgba(0,0,255,1)" : "rgba(0,0,255,0.66)";
    const dash = {
      showLine: true,
      borderColor: "rgba(255,0,0,0.92)",
      borderWidth: 1.2,
      borderDash: [11, 5],
      pointRadius: 0,
      fill: false,
    };
    const dots = {
      pointRadius: 1.8,
      pointBackgroundColor: DOT_BLUE,
      pointBorderWidth: 0,
      pointBorderColor: DOT_BLUE,
      showLine: false,
    };
    const chart = new Chart(ref.current as HTMLCanvasElement, {
      type: "scatter",
      data: {
        datasets: [
          { ...dash, data: [{ x: span[0], y: lim }, { x: span[1], y: lim }] },
          { ...dash, data: [{ x: span[0], y: -lim }, { x: span[1], y: -lim }] },
          { ...dots, data: zip(times, SERIES[idx]) },
          { ...dots, data: zip(burstTimes, BURSTS[idx]) },
          {
            data: zip(bandTimes, BAND_LO[idx]),
            showLine: true,
            borderColor: bandFill,
            borderWidth: row === 0 ? 1.5 : 1,
            pointRadius: 0,
            fill: false,
          },
          {
            data: zip(bandTimes, BAND_HI[idx]),
            showLine: true,
            borderColor: bandFill,
            borderWidth: row === 0 ? 1.5 : 1,
            backgroundColor: bandFill,
            pointRadius: 0,
            fill: "-1",
          },
        ],
      } as any,
      options: {
        responsive: false,
        animation: false,
        devicePixelRatio: 1,
        events: [],
        layout: { padding: { left: 0, top: PAD_T, right: PAD_R, bottom: 0 } },
        plugins: {
          legend: { display: false },
          tooltip: { enabled: false },
          title: { display: false },
          filler: { propagate: false },
        },
        scales: {
          x: {
            type: "linear",
            min: xTicks[0],
            max: xTicks[xTicks.length - 1],
            afterBuildTicks: (s: any) => {
              s.ticks = xTicks.map((v) => ({ value: v }));
            },
            afterFit: (s: any) => {
              s.height = X_AXIS_H;
            },
            grid: { color: GRID_COLOR, drawTicks: false, lineWidth: 1 },
            border: { display: false },
            ticks: {
              padding: 9,
              color: AXIS_COLOR,
              font: { family: SANS, size: 13 },
              maxRotation: 0,
              autoSkip: false,
              callback: (v: any) => fmt(v),
            },
          },
          y: {
            type: "linear",
            min: yTicks[0],
            max: yTicks[yTicks.length - 1],
            afterBuildTicks: (s: any) => {
              s.ticks = yTicks.map((v) => ({ value: v }));
            },
            afterFit: (s: any) => {
              s.width = Y_AXIS_W;
            },
            grid: { color: GRID_COLOR, drawTicks: false, lineWidth: 1 },
            border: { display: false },
            ticks: {
              padding: 5,
              color: AXIS_COLOR,
              font: { family: SANS, size: 13 },
              autoSkip: false,
              callback: (v: any) => fmt(v),
            },
          },
        },
      } as any,
      plugins: [boxPlugin],
    });
    return () => chart.destroy();
  }, [idx]);

  return (
    <canvas
      ref={ref}
      width={CW}
      height={CH}
      style={{ position: "absolute", left, top, width: CW, height: CH }}
    />
  );
}

const subStyle: React.CSSProperties = { fontSize: "0.7em", verticalAlign: "-0.3em", lineHeight: 0 };
const supStyle: React.CSSProperties = { fontSize: "0.7em", verticalAlign: "0.55em", lineHeight: 0 };

function PanelTitle({ idx }: { idx: number }) {
  const row = idx < 3 ? 0 : 1;
  const col = idx % 3;
  const cx = COL_LEFT[col] + PLOT_W / 2;
  const cy = row === 0 ? 51 : 278;
  return (
    <div
      style={{
        position: "absolute",
        left: cx - 150,
        width: 300,
        top: cy - 11,
        height: 22,
        lineHeight: "22px",
        textAlign: "center",
        fontFamily: SERIF,
        fontSize: 17,
        letterSpacing: 1,
        color: "#000",
        whiteSpace: "nowrap",
      }}
    >
      <i>C</i>
      <span style={subStyle}>
        <i>{COEFF_SUBSCRIPTS[idx]}</i>
      </span>
      {row === 0 ? "\u00a0" : ""}(<i>R</i>
      <span style={supStyle}>2</span> ={R2_SCORES[idx]})
    </div>
  );
}

export default function App() {
  return (
    <div
      style={{
        position: "absolute",
        left: 0,
        top: 0,
        width: 844,
        height: 498,
        overflow: "hidden",
        background: "#fff",
      }}
    >
      <div
        style={{
          position: "absolute",
          left: 288,
          width: 292,
          top: 6,
          height: 22,
          lineHeight: "22px",
          textAlign: "center",
          fontFamily: SERIF,
          fontSize: 17,
          letterSpacing: 1.1,
          color: "#000",
          whiteSpace: "nowrap",
        }}
      >
        {MAIN_TITLE} <i>R</i>
        <span style={supStyle}>2</span> {MAIN_TITLE_END}
      </div>
      {[0, 1, 2, 3, 4, 5].map((i) => (
        <Panel key={"p" + i} idx={i} />
      ))}
      {[0, 1, 2, 3, 4, 5].map((i) => (
        <PanelTitle key={"t" + i} idx={i} />
      ))}
      {[0, 1].map((r) => (
        <div
          key={"yl" + r}
          style={{
            position: "absolute",
            left: 26,
            top: ROW_TOP[r] + PLOT_H / 2,
            transform: "translate(-50%, -50%) rotate(-90deg)",
            fontFamily: SANS,
            fontSize: 18,
            color: AXIS_COLOR,
            whiteSpace: "nowrap",
          }}
        >
          {Y_LABEL}
        </div>
      ))}
      {[0, 1, 2].map((c) => (
        <div
          key={"xl" + c}
          style={{
            position: "absolute",
            left: COL_LEFT[c] + PLOT_W / 2 - 60,
            width: 120,
            top: 466,
            height: 22,
            lineHeight: "22px",
            textAlign: "center",
            fontFamily: SERIF,
            fontSize: 17,
            letterSpacing: 0.8,
            color: "#000",
            whiteSpace: "nowrap",
          }}
        >
          {X_LABEL}
        </div>
      ))}
      <div
        style={{
          position: "absolute",
          left: 346,
          top: 270,
          fontFamily: SANS,
          fontSize: 11,
          color: AXIS_COLOR,
          whiteSpace: "nowrap",
          lineHeight: "14px",
        }}
      >
        {"\u00d710"}
        <span style={{ fontSize: "0.8em", verticalAlign: "0.45em", lineHeight: 0 }}>-3</span>
      </div>
    </div>
  );
}
